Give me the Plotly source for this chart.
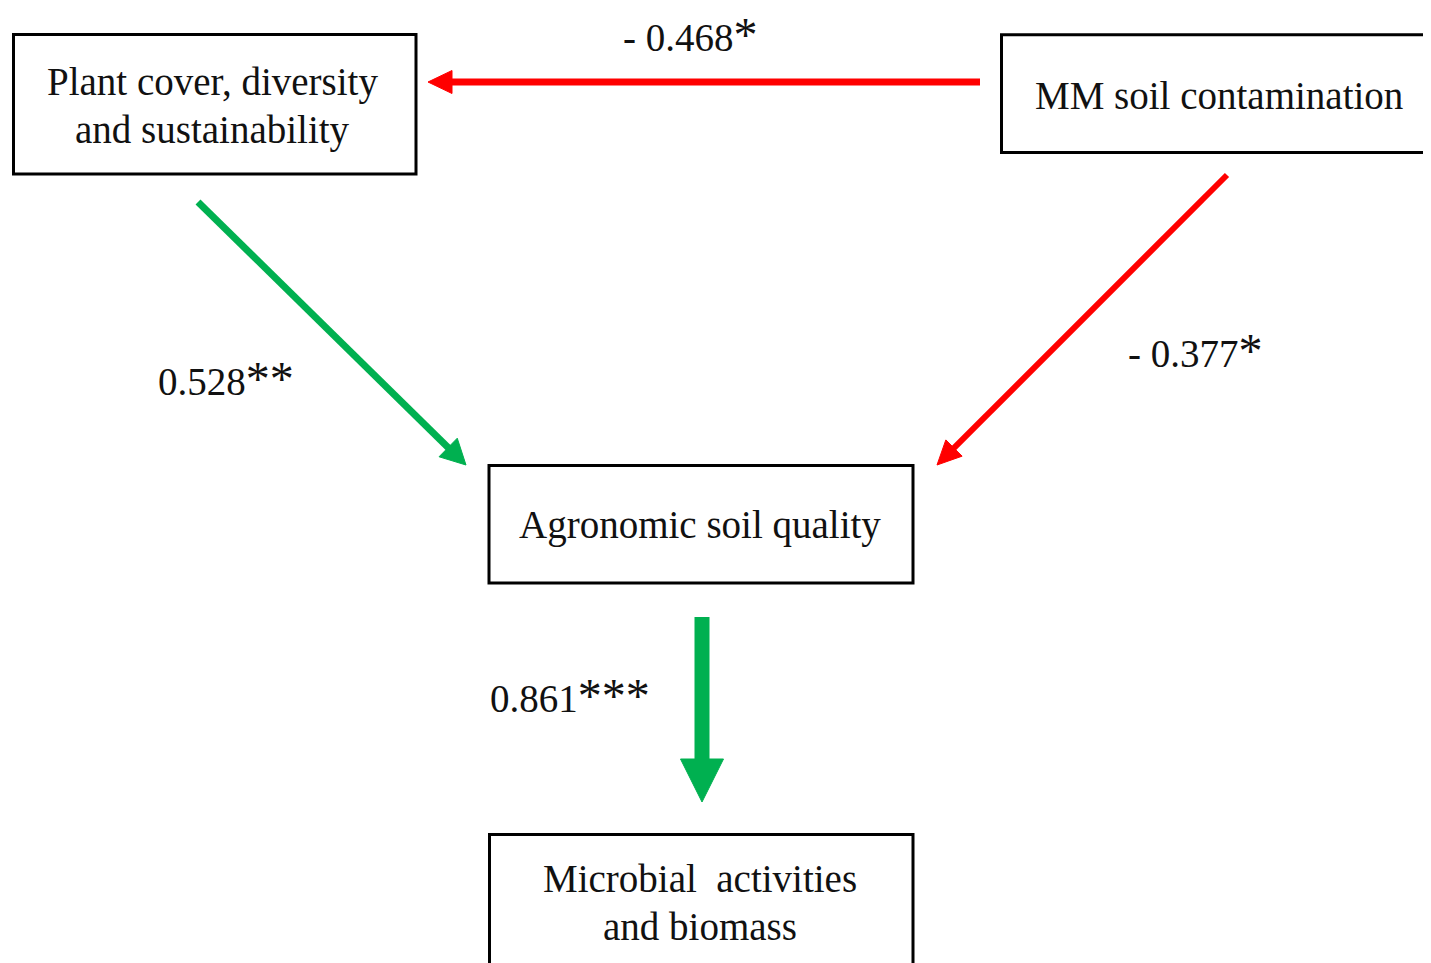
import math
import plotly.graph_objects as go

# ---- nodes ----
node_labels = [
    "Plant cover, diversity<br>and sustainability",
    "MM soil contamination",
    "Agronomic soil quality",
    "Microbial\u00a0 activities<br>and biomass",
]
node_x0 = [13.5, 1001.5, 489, 489.5]
node_x1 = [416, 1450, 913, 913]
node_y0 = [34.5, 34.7, 465.5, 834.5]
node_y1 = [174, 152.5, 583, 1000]
node_text_x = [212, 1219, 700, 700]
node_text_y = [106, 95, 525, 902]

# ---- edges (path coefficients) ----
edge_coef = [-0.468, 0.528, -0.377, 0.861]
edge_sig = ["*", "**", "*", "***"]
edge_x0 = [980, 198, 1227, 702]
edge_y0 = [82, 202, 175, 617]
edge_x1 = [428, 466, 937, 702]
edge_y1 = [82, 465, 465, 802]
edge_width = [7, 7, 6, 15]
edge_head_len = [24, 25, 24, 43]
edge_head_half = [11.5, 13, 11.5, 21.5]
edge_label_x = [621, 156, 1126, 488]
edge_label_y = [34, 378, 350, 695]

POS = "#00B050"
NEG = "#FF0000"
FONT = "Liberation Serif, Times New Roman, serif"
FS = 39
LINE_GAP = 48
OFF = 8  # page body margin

fig = go.Figure()
shapes = []
annotations = []

for lab, x0, x1, y0, y1, tx, ty in zip(node_labels, node_x0, node_x1, node_y0, node_y1,
                                       node_text_x, node_text_y):
    shapes.append(dict(type="rect", xref="x", yref="y", x0=x0, x1=x1, y0=y0, y1=y1,
                       line=dict(color="black", width=3), fillcolor="white", layer="below"))
    lines = lab.split("<br>")
    n = len(lines)
    for i, ln in enumerate(lines):
        yy = ty + (i - (n - 1) / 2) * LINE_GAP
        annotations.append(dict(x=tx, y=yy, xref="x", yref="y", text=ln, showarrow=False,
                                font=dict(family=FONT, size=FS, color="#111"),
                                xanchor="center", yanchor="middle", align="center"))

for c, s, x0, y0, x1, y1, w, hl, hh, lx, ly in zip(edge_coef, edge_sig, edge_x0, edge_y0,
                                                   edge_x1, edge_y1, edge_width, edge_head_len,
                                                   edge_head_half, edge_label_x, edge_label_y):
    col = POS if c > 0 else NEG
    dx, dy = x1 - x0, y1 - y0
    L = math.hypot(dx, dy)
    ux, uy = dx / L, dy / L
    px, py = -uy, ux
    bx, by = x1 - ux * hl, y1 - uy * hl
    shapes.append(dict(type="line", xref="x", yref="y", x0=x0, y0=y0,
                       x1=bx + ux * 2, y1=by + uy * 2,
                       line=dict(color=col, width=w)))
    path = (f"M {x1},{y1} L {bx + px * hh},{by + py * hh} "
            f"L {bx - px * hh},{by - py * hh} Z")
    shapes.append(dict(type="path", xref="x", yref="y", path=path,
                       fillcolor=col, line=dict(color=col, width=1)))
    num = f"- {abs(c):.3f}" if c < 0 else f"{c:.3f}"
    txt = num + f"<span style='font-size:48px'>{s}</span>"
    annotations.append(dict(x=lx, y=ly, xref="x", yref="y", text=txt, showarrow=False,
                            font=dict(family=FONT, size=FS, color="#111"),
                            xanchor="left", yanchor="middle"))

fig.update_layout(
    width=1431, height=963,
    margin=dict(l=0, r=0, t=0, b=0),
    paper_bgcolor="white", plot_bgcolor="white",
    xaxis=dict(range=[OFF, 1431 + OFF], visible=False, fixedrange=True),
    yaxis=dict(range=[963 + OFF, OFF], visible=False, fixedrange=True),
    shapes=shapes, annotations=annotations, showlegend=False,
)
fig.write_html("out.html")
